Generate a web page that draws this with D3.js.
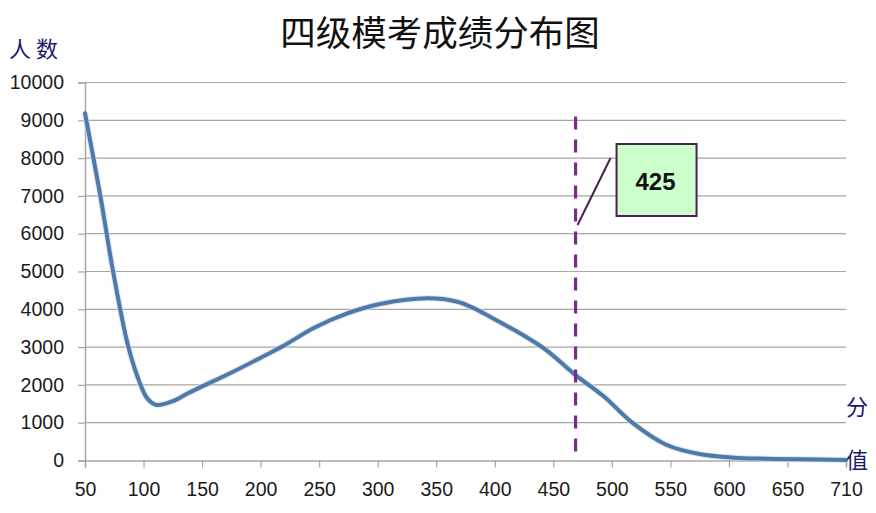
<!DOCTYPE html>
<html>
<head>
<meta charset="utf-8">
<script src="https://cdn.jsdelivr.net/npm/d3@7"></script>
<style>
  html, body { margin: 0; padding: 0; background: #ffffff; }
  svg { display: block; }
</style>
</head>
<body>
<svg id="chart" width="876" height="513"></svg>
<script>
// ---- data ----
const title = "四级模考成绩分布图";
const yAxisTitle = "人 数";
const xAxisTitle = ["分", "值"];
const xTickValues = [50, 100, 150, 200, 250, 300, 350, 400, 450, 500, 550, 600, 650, 700];
const xTickLabels = ["50", "100", "150", "200", "250", "300", "350", "400", "450", "500", "550", "600", "650", "710"];
const yTickValues = [0, 1000, 2000, 3000, 4000, 5000, 6000, 7000, 8000, 9000, 10000];
const scores = [50, 63, 74, 87, 97, 103, 111, 125, 138, 150, 174, 202, 220, 245, 274, 302, 342, 368, 382, 396, 424, 444, 469, 493, 518, 547, 575, 604, 632, 661, 700];
const counts = [9190, 7020, 5000, 3010, 2040, 1650, 1470, 1570, 1780, 1960, 2310, 2750, 3040, 3500, 3890, 4140, 4290, 4200, 4030, 3800, 3320, 2920, 2260, 1700, 990, 410, 170, 75, 48, 32, 13];
const markerScore = 469;
const markerLabel = "425";

// ---- layout ----
const svg = d3.select("#chart");
const plot = { left: 85, right: 846, top: 82.5, bottom: 460.5 };

const x = d3.scaleLinear().domain([50, 700]).range([plot.left, plot.right]);
const y = d3.scaleLinear().domain([0, 10000]).range([plot.bottom, plot.top]);

const gridColor = "#a6a6a6";
const navy = "#1a1a6e";

// gridlines
svg.append("g")
  .selectAll("line")
  .data(yTickValues.filter(d => d > 0))
  .join("line")
  .attr("x1", plot.left).attr("x2", plot.right)
  .attr("y1", d => y(d)).attr("y2", d => y(d))
  .attr("stroke", gridColor).attr("stroke-width", 1.2);

// y axis
const yAxis = svg.append("g")
  .attr("transform", `translate(${plot.left},0)`)
  .call(d3.axisLeft(y).tickValues(yTickValues).tickSize(7).tickPadding(14).tickFormat(d3.format("d")));
yAxis.select(".domain").attr("stroke", gridColor).attr("stroke-width", 1.5);
yAxis.selectAll(".tick line").attr("stroke", gridColor).attr("stroke-width", 1.2);
yAxis.selectAll(".tick text")
  .attr("font-family", "'Liberation Sans', Arial, sans-serif")
  .attr("font-size", 19.5).attr("fill", "#1a1a1a");

// x axis
const xAxis = svg.append("g")
  .attr("transform", `translate(0,${plot.bottom})`)
  .call(d3.axisBottom(x).tickValues(xTickValues).tickSize(7).tickPadding(15)
    .tickFormat((d, i) => xTickLabels[i]));
xAxis.select(".domain").attr("stroke", gridColor).attr("stroke-width", 1.5);
xAxis.selectAll(".tick line").attr("stroke", gridColor).attr("stroke-width", 1.2);
xAxis.selectAll(".tick text")
  .attr("font-family", "'Liberation Sans', Arial, sans-serif")
  .attr("font-size", 19.5).attr("fill", "#1a1a1a");

// curve
const line = d3.line()
  .x((d, i) => x(scores[i]))
  .y(d => y(d))
  .curve(d3.curveCatmullRom.alpha(0.5));

svg.append("path")
  .datum(counts)
  .attr("d", line)
  .attr("fill", "none")
  .attr("stroke", "#c9ddf0")
  .attr("stroke-width", 6)
  .attr("stroke-linejoin", "round")
  .attr("opacity", 0.7);
svg.append("path")
  .datum(counts)
  .attr("d", line)
  .attr("fill", "none")
  .attr("stroke", "#4d7aa8")
  .attr("stroke-width", 4)
  .attr("stroke-linejoin", "round")
  .attr("stroke-linecap", "round");

// dashed marker line
svg.append("line")
  .attr("x1", x(markerScore)).attr("x2", x(markerScore))
  .attr("y1", y(9100)).attr("y2", plot.bottom)
  .attr("stroke", "#7a2a8c").attr("stroke-width", 3.2)
  .attr("stroke-dasharray", "13,10");

// callout
const boxX = x(markerScore) + 41, boxY = 144, boxW = 80, boxH = 72;
svg.append("line")
  .attr("x1", x(markerScore) + 2).attr("y1", 225)
  .attr("x2", boxX - 6).attr("y2", 158)
  .attr("stroke", "#4b2050").attr("stroke-width", 2);
svg.append("rect")
  .attr("x", boxX).attr("y", boxY).attr("width", boxW).attr("height", boxH)
  .attr("fill", "#ccffcc").attr("stroke", "#4b2050").attr("stroke-width", 2);
svg.append("text")
  .attr("x", boxX + boxW / 2 - 1).attr("y", boxY + boxH / 2 + 1)
  .attr("text-anchor", "middle").attr("dominant-baseline", "central")
  .attr("font-family", "'Liberation Sans', Arial, sans-serif")
  .attr("font-weight", "bold").attr("font-size", 24).attr("fill", "#111")
  .text(markerLabel);

// title
svg.append("text")
  .attr("x", 440).attr("y", 30)
  .attr("text-anchor", "middle").attr("dominant-baseline", "central")
  .attr("font-family", "'Noto Sans CJK SC', sans-serif")
  .attr("font-size", 35.5).attr("fill", "#111")
  .text(title);

// axis titles
svg.append("text")
  .attr("x", 9).attr("y", 47)
  .attr("dominant-baseline", "central")
  .attr("font-family", "'Noto Sans CJK SC', sans-serif")
  .attr("font-size", 22).attr("fill", navy)
  .attr("xml:space", "preserve")
  .text(yAxisTitle);

svg.append("g").selectAll("text")
  .data(xAxisTitle)
  .join("text")
  .attr("x", 857).attr("y", (d, i) => 405 + i * 53)
  .attr("text-anchor", "middle").attr("dominant-baseline", "central")
  .attr("font-family", "'Noto Sans CJK SC', sans-serif")
  .attr("font-size", 22).attr("fill", navy)
  .text(d => d);
</script>
</body>
</html>
